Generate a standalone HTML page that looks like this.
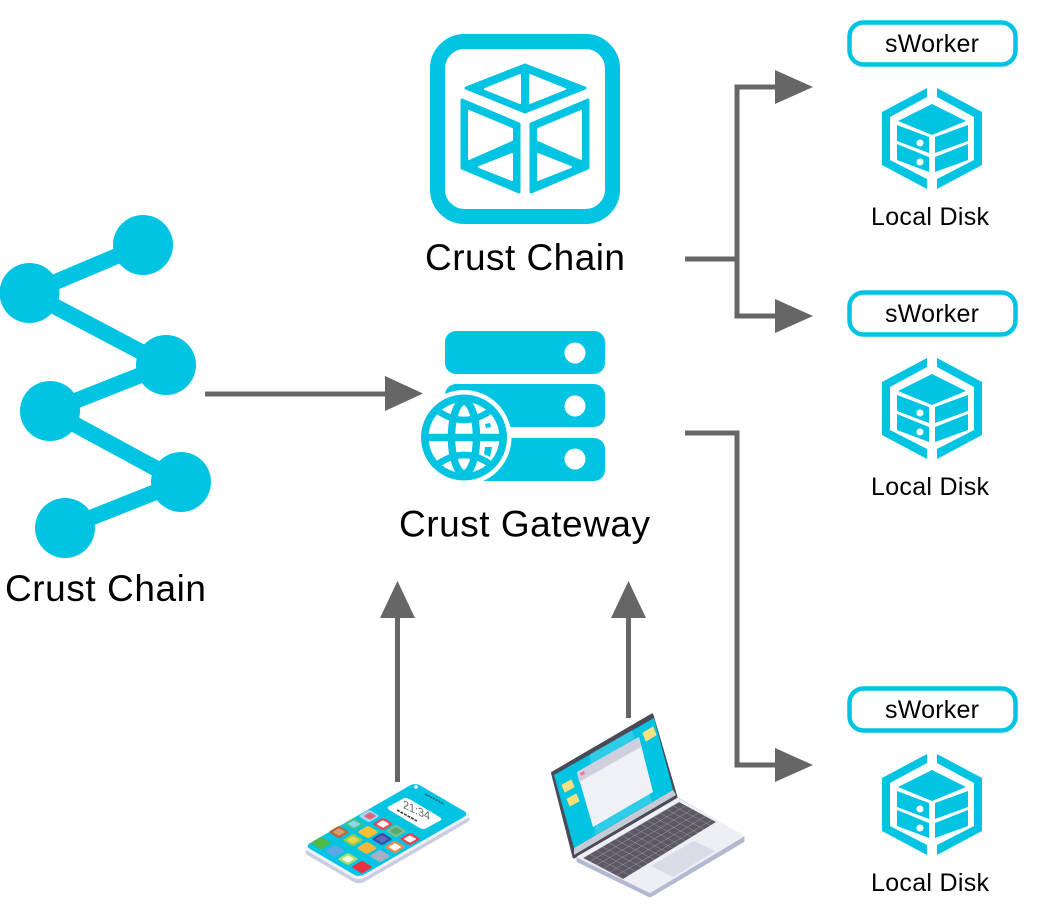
<!DOCTYPE html>
<html><head><meta charset="utf-8"><style>
html,body{margin:0;padding:0;background:#fff;width:1057px;height:916px;overflow:hidden}
svg{display:block}
text{font-family:"Liberation Sans",sans-serif;fill:#000}
</style></head><body>
<svg width="1057" height="916" viewBox="0 0 1057 916" xmlns="http://www.w3.org/2000/svg">
<defs>
<pattern id="kb" patternUnits="userSpaceOnUse" width="1" height="1" patternTransform="matrix(6.4 -3.73 6.67 3.5 583 858)">
<path d="M0 0H1M0 0V1" stroke="#b9b8c0" stroke-width=".09" fill="none"/>
</pattern>
<rect id="a" x="-1" y="-1" width="2" height="2" rx=".3" ry=".3" transform="matrix(5.300 -3.200 5.300 3.200 0 0)"/>
<rect id="b" x="-1" y="-1" width="2" height="2" rx=".3" ry=".3" transform="matrix(3.200 -1.900 3.200 1.900 0 0)"/>
<g id="disk">
<path fill="#01c3e2" d="M927 88L882 112V165L927 189V179L890 160V117L927 97ZM937 88L982 112V165L937 189V179L974 160V117L937 97Z"/>
<path fill="#01c3e2" d="M932 104L966 121L932 135L898 121ZM897 125L929 137V153L897 141ZM897 144L929 157V172L897 160ZM935 137L968 125V141L935 153ZM935 157L968 144V160L935 172Z"/>
<circle cx="920" cy="143" r="3.500" fill="#fff"/><circle cx="920" cy="162" r="3.500" fill="#fff"/>
</g>
</defs>

<!-- chain network -->
<polyline points="143,245 29.500,293 166,365 50,411 181,482 65,528" stroke="#01c3e2" stroke-width="16" fill="none"/>
<g fill="#01c3e2">
<circle cx="143" cy="245" r="30"/><circle cx="29.500" cy="293" r="30"/><circle cx="166" cy="365" r="30"/>
<circle cx="50" cy="411" r="30"/><circle cx="181" cy="482" r="30"/><circle cx="65" cy="528" r="30"/>
</g>
<text x="5" y="601" font-size="37" textLength="201" lengthAdjust="spacing">Crust Chain</text>

<!-- cube icon -->
<rect x="437.500" y="41.500" width="175" height="175" rx="27" fill="none" stroke="#01c3e2" stroke-width="15"/>
<g fill="#01c3e2" stroke="#01c3e2" stroke-width="3" stroke-linejoin="round">
<path d="M466 88L525 65L585 88L525 112Z"/>
<path d="M462 100L519 124V192L462 168Z"/>
<path d="M588 100L531 124V192L588 168Z"/>
</g>
<g fill="#fff" stroke="#fff" stroke-width="2" stroke-linejoin="round">
<path d="M485 89L520 103V75Z"/><path d="M530 75V103L565 89Z"/>
<path d="M469 111V159L512 140V129Z"/><path d="M479 167L512 180V154Z"/>
<path d="M581 111V159L538 140V129Z"/><path d="M571 167L538 180V154Z"/>
</g>
<text x="425" y="270" font-size="37" textLength="200" lengthAdjust="spacing">Crust Chain</text>

<!-- server + globe -->
<g fill="#01c3e2">
<rect x="445" y="331" width="160" height="43" rx="11"/>
<rect x="445" y="384" width="160" height="43" rx="11"/>
<rect x="445" y="438" width="160" height="43" rx="11"/>
</g>
<g fill="#fff"><circle cx="575" cy="353" r="10.500"/><circle cx="575" cy="406" r="10.500"/><circle cx="575" cy="459" r="10.500"/></g>
<circle cx="464" cy="437.500" r="47.500" fill="#fff"/>
<circle cx="464" cy="437.500" r="43" fill="#01c3e2"/>
<circle cx="464" cy="437.500" r="35.500" fill="#fff"/>
<g fill="none" stroke="#01c3e2">
<ellipse cx="464" cy="437.500" rx="12.500" ry="36" stroke-width="7.500"/>
<path d="M425 437.500H503" stroke-width="7.500"/>
<path d="M434 408Q464 432 494 408M434 467Q464 443 494 467" stroke-width="6.500"/>
</g>
<path fill="#01c3e2" d="M485 424L490 423L491 427L486 428ZM485 447L492 447L490 457L484 454Z"/>
<text x="399" y="536.500" font-size="37" textLength="251" lengthAdjust="spacing">Crust Gateway</text>

<!-- connectors -->
<g fill="none" stroke="#666" stroke-width="5">
<path d="M205 394H390"/>
<path d="M685 259H737M776 87H737V316H776"/>
<path d="M685 433H737V765H776"/>
<path d="M397.500 782V612"/>
<path d="M628.500 718V612"/>
</g>
<g fill="#666">
<path d="M385 376L423 393.500L385 411Z"/>
<path d="M775 70L813 87L775 104Z"/>
<path d="M775 299L813 316L775 333Z"/>
<path d="M775 748L813 765L775 782Z"/>
<path d="M380 618L397.500 581L415 618Z"/>
<path d="M611 618L628.500 581L646 618Z"/>
</g>

<!-- workers -->
<g fill="none" stroke="#01c3e2" stroke-width="4.500">
<rect x="849.500" y="22.500" width="166" height="42" rx="14"/>
<rect x="849.500" y="292.500" width="166" height="42" rx="14"/>
<rect x="849.500" y="688.500" width="166" height="42" rx="14"/>
</g>
<text x="885" y="52" font-size="25" textLength="94" lengthAdjust="spacing">sWorker</text>
<text x="885" y="322" font-size="25" textLength="94" lengthAdjust="spacing">sWorker</text>
<text x="885" y="718" font-size="25" textLength="94" lengthAdjust="spacing">sWorker</text>
<use href="#disk"/>
<use href="#disk" y="270"/>
<use href="#disk" y="666"/>
<text x="871" y="225" font-size="25" textLength="118" lengthAdjust="spacing">Local Disk</text>
<text x="871" y="495" font-size="25" textLength="118" lengthAdjust="spacing">Local Disk</text>
<text x="871" y="891" font-size="25" textLength="118" lengthAdjust="spacing">Local Disk</text>

<!-- phone -->
<rect x="0" y="0" width="1" height="1" rx=".05" ry=".1" transform="matrix(114 -66 57 33 302 852)" fill="#c9cde2"/>
<rect x="0" y="0" width="1" height="1" rx=".05" ry=".1" transform="matrix(114 -66 57 33 302 848)" fill="#f1f2f8"/>
<rect x="0" y="0" width="1" height="1" rx=".045" ry=".08" transform="matrix(110 -63.500 54 31.500 305 846)" fill="#01c3e2"/>
<rect x="0" y="0" width="1" height="1" rx=".1" ry=".12" transform="matrix(20 -11 37 22 386 808)" fill="#fff"/>
<text transform="matrix(.9 .42 0 1 403 808)" font-size="12" style="fill:#666">21:34</text>
<path d="M397 810L417 821" stroke="#333" stroke-width="1.500" stroke-dasharray="3 1" fill="none"/>
<circle cx="416" cy="787" r="1.800" fill="#fff"/>
<path d="M425 794L444 804" stroke="#1a5a70" stroke-width="1.500" stroke-dasharray="2 1" fill="none"/>
<g>
<use href="#a" x="369" y="816" fill="#a5d8ef"/><use href="#b" x="370" y="816" fill="#e8607f"/>
<use href="#a" x="354" y="824" fill="#3ec383"/><use href="#b" x="354" y="824" fill="#8ed8ee"/>
<use href="#a" x="383" y="824" fill="#e94a52"/><use href="#b" x="383" y="824" fill="#fff"/>
<use href="#a" x="339" y="832" fill="#b4693a"/><use href="#b" x="339" y="832" fill="#d99a72"/>
<use href="#a" x="368" y="832" fill="#fcbf2d"/>
<use href="#a" x="396" y="831" fill="#7fbf94"/><use href="#b" x="396" y="831" fill="#58a96e"/>
<use href="#a" x="353" y="840" fill="#8ed04e"/><use href="#b" x="353" y="840" fill="#f4d34a"/>
<use href="#a" x="382" y="839" fill="#3c4f9e"/><use href="#b" x="382" y="839" fill="#5a6cc0"/>
<use href="#a" x="410" y="839" fill="#e8404c"/><use href="#b" x="410" y="839" fill="#fff"/>
<use href="#a" x="321" y="843" fill="#4fb949"/>
<use href="#a" x="367" y="848" fill="#f5b53d"/>
<use href="#a" x="395" y="847" fill="#f28b52"/><use href="#b" x="395" y="847" fill="#fff"/>
<use href="#a" x="335" y="851" fill="#58a9e6"/>
<use href="#a" x="380" y="856" fill="#a6aec4"/>
<use href="#a" x="348" y="859" fill="#a9dc68"/><use href="#b" x="348" y="859" fill="#eef7e2"/>
<use href="#a" x="362" y="867" fill="#ea2f43"/>
</g>

<!-- laptop -->
<path fill="#4b4a57" stroke="#4b4a57" stroke-width="3" stroke-linejoin="round" d="M652 715L676 797L574 857L552.500 773Z"/>
<path fill="#01c3e2" d="M654 718L673 790L574 848L554 775Z"/>
<path fill="#fff" opacity=".18" d="M590 754L632 730L652 802L595 835Z"/>
<path fill="#c7cbd6" d="M673 790L676 795L574 855L574 848Z"/>
<path fill="#f0f1f6" d="M577 772L639 737L653 792L593 827Z"/>
<path fill="#cfd0dd" d="M577 772L639 737L641 747L579 782Z"/>
<path fill="#f0828f" d="M580 773l4-2 1 3-4 2z"/>
<g fill="#f9e27d" stroke="#f9e27d" stroke-linejoin="round">
<path d="M643 733l10-6 3 8-10 6z"/>
<path d="M562 785l9-5 3 7-9 5z"/>
<path d="M567 799l9-5 3 7-9 5z"/>
</g>
<path fill="#b4b9d2" stroke="#b4b9d2" stroke-width="3" stroke-linejoin="round" d="M678 799L743 837V841L650 896L578 861V858Z"/>
<path fill="#eeeff5" stroke="#eeeff5" stroke-width="2" stroke-linejoin="round" d="M678 799L743 836L650 892L578 857Z"/>
<path fill="#5c5964" d="M679 802L716 822L623 879L583 858Z"/>
<path fill="url(#kb)" d="M679 802L716 822L623 879L583 858Z"/>
<path fill="#d9dbe6" stroke="#d9dbe6" stroke-linejoin="round" stroke-width="2" d="M694 842L713 851L673 876L653 866Z"/>
</svg>
</body></html>
